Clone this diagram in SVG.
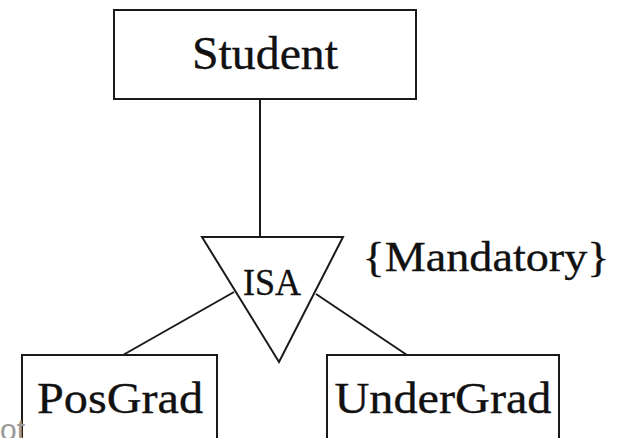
<svg xmlns="http://www.w3.org/2000/svg" width="619" height="438" viewBox="0 0 619 438">
  <style>
    .box { fill: #ffffff; stroke: #1a1a1a; stroke-width: 2; }
    .link { fill: none; stroke: #1a1a1a; stroke-width: 2; }
    .label { font-family: "Liberation Serif", "Times New Roman", serif; fill: #111111; stroke: #111111; stroke-width: 0.35; text-anchor: middle; }
    .note { font-family: "Liberation Sans", Arial, sans-serif; fill: #9a9a9a; }
  </style>
  <rect width="619" height="438" fill="#ffffff"/>

  <!-- connectors -->
  <g id="connectors">
    <line class="link" x1="260" y1="99" x2="260" y2="237"/>
    <line class="link" x1="123" y1="355" x2="234" y2="292"/>
    <line class="link" x1="316" y1="294" x2="407" y2="355"/>
  </g>

  <!-- entity: Student -->
  <g id="student">
    <rect class="box" x="114" y="10" width="302" height="89"/>
    <text class="label" x="265" y="69" font-size="46" textLength="146" lengthAdjust="spacingAndGlyphs">Student</text>
  </g>

  <!-- ISA triangle -->
  <g id="isa">
    <polygon class="box" points="202,237 343,237 279,362"/>
    <text class="label" x="272" y="295" font-size="38" textLength="58" lengthAdjust="spacingAndGlyphs">ISA</text>
  </g>

  <!-- constraint annotation -->
  <g id="constraint">
    <text class="label" x="486" y="271" font-size="43" textLength="247" lengthAdjust="spacingAndGlyphs">{Mandatory}</text>
  </g>

  <!-- entity: PosGrad -->
  <g id="posgrad">
    <rect class="box" x="22" y="355" width="195" height="100"/>
    <text class="label" x="120" y="413" font-size="44" textLength="166" lengthAdjust="spacingAndGlyphs">PosGrad</text>
  </g>

  <!-- entity: UnderGrad -->
  <g id="undergrad">
    <rect class="box" x="327" y="355" width="232" height="100"/>
    <text class="label" x="443" y="413" font-size="44" textLength="217" lengthAdjust="spacingAndGlyphs">UnderGrad</text>
  </g>

  <!-- caption fragment at the lower edge -->
  <text class="note" x="0" y="440" font-size="30">ot</text>
</svg>
